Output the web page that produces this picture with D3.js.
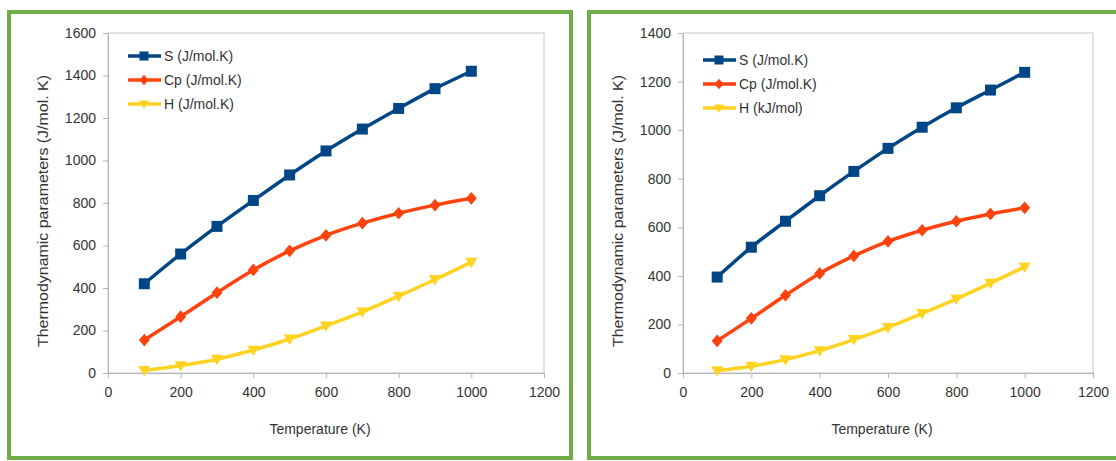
<!DOCTYPE html>
<html>
<head>
<meta charset="utf-8">
<script src="https://cdn.jsdelivr.net/npm/d3@7"></script>
<style>
body { margin: 0; background: #fff; }
svg { display: block; font-family: "Liberation Sans", Arial, sans-serif; }
</style>
</head>
<body>
<svg id="canvas" width="1116" height="461"></svg>
<script>
//Chart values
var temps = [100, 200, 300, 400, 500, 600, 700, 800, 900, 1000];
var xTicks = [0, 200, 400, 600, 800, 1000, 1200];

var leftS = [420, 560, 690, 812, 932, 1045, 1148, 1245, 1338, 1420];
var leftCp = [155, 265, 378, 485, 575, 648, 705, 752, 790, 822];
var leftH = [12, 35, 65, 108, 160, 222, 288, 362, 440, 522];
var leftLabels = ["S (J/mol.K)", "Cp (J/mol.K)", "H (J/mol.K)"];
var leftYTicks = [0, 200, 400, 600, 800, 1000, 1200, 1400, 1600];

var rightS = [395, 518, 625, 730, 830, 925, 1012, 1092, 1165, 1238];
var rightCp = [132, 225, 320, 410, 482, 542, 588, 625, 655, 680];
var rightH = [10, 28, 55, 92, 138, 188, 245, 305, 370, 437];
var rightLabels = ["S (J/mol.K)", "Cp (J/mol.K)", "H (kJ/mol)"];
var rightYTicks = [0, 200, 400, 600, 800, 1000, 1200, 1400];

var colors = ["#004586", "#ff420e", "#ffd320"];

var svg = d3.select("#canvas");

//Green panel frames
svg.append("rect").attr("x", 9).attr("y", 12).attr("width", 562).attr("height", 446)
    .attr("fill", "none").attr("stroke", "#70ad47").attr("stroke-width", 4);
svg.append("rect").attr("x", 589).attr("y", 12).attr("width", 560).attr("height", 446)
    .attr("fill", "none").attr("stroke", "#70ad47").attr("stroke-width", 4);

//marker shapes: square, diamond, down triangle
function marker(k, s) {
    if (k == 0) return "M" + (-s) + "," + (-s) + "h" + 2 * s + "v" + 2 * s + "h" + (-2 * s) + "Z";
    if (k == 1) return "M0," + (-s * 1.15) + "L" + s + ",0L0," + (s * 1.15) + "L" + (-s) + ",0Z";
    return "M" + (-s * 1.1) + "," + (-s * 0.8) + "L" + (s * 1.1) + "," + (-s * 0.8) + "L0," + (s * 1.1) + "Z";
}

function panel(opt) {
    var g = svg.append("g");
    var x = d3.scaleLinear().domain([0, 1200]).range([opt.left, opt.right]);
    var y = d3.scaleLinear().domain([0, opt.ymax]).range([373, 33]);

    //plot box
    g.append("rect").attr("x", opt.left).attr("y", 33)
        .attr("width", opt.right - opt.left).attr("height", 340)
        .attr("fill", "none").attr("stroke", "#c8c8c8").attr("stroke-width", 1);

    var xa = g.append("g").attr("transform", "translate(0,373)")
        .call(d3.axisBottom(x).tickValues(xTicks).tickSize(5).tickPadding(9).tickFormat(d3.format("d")));
    var ya = g.append("g").attr("transform", "translate(" + opt.left + ",0)")
        .call(d3.axisLeft(y).tickValues(opt.yTicks).tickSize(5).tickPadding(7).tickFormat(d3.format("d")));
    [xa, ya].forEach(function(a) {
        a.select(".domain").attr("stroke", "#b3b3b3");
        a.selectAll(".tick line").attr("stroke", "#b3b3b3");
        a.selectAll(".tick text").attr("fill", "#333").style("font-size", "14px");
    });

    g.append("text").attr("x", (opt.left + opt.right) / 2 - 6).attr("y", 434)
        .attr("text-anchor", "middle").attr("fill", "#333").style("font-size", "14px")
        .text("Temperature (K)");
    g.append("text")
        .attr("transform", "translate(" + (opt.left - 60) + ",211) rotate(-90)")
        .attr("text-anchor", "middle").attr("fill", "#333").style("font-size", "14px")
        .attr("textLength", 272).attr("lengthAdjust", "spacingAndGlyphs")
        .text("Thermodynamic parameters (J/mol. K)");

    var line = d3.line()
        .x(function(d, i) { return x(temps[i]); })
        .y(function(d) { return y(d); })
        .curve(d3.curveMonotoneX);

    opt.series.forEach(function(s, k) {
        g.append("path").datum(s).attr("d", line)
            .attr("fill", "none").attr("stroke", colors[k]).attr("stroke-width", 3.5);
        g.selectAll(".m" + k).data(s).enter().append("path")
            .attr("transform", function(d, i) {
                return "translate(" + x(temps[i]) + "," + y(d) + ")";
            })
            .attr("d", marker(k, 5.5))
            .attr("fill", colors[k]);
    });

    //legend
    opt.labels.forEach(function(t, k) {
        var ly = opt.legY + k * 24;
        var lx = opt.left + 20;
        g.append("line").attr("x1", lx).attr("x2", lx + 33).attr("y1", ly).attr("y2", ly)
            .attr("stroke", colors[k]).attr("stroke-width", 3.5);
        g.append("path")
            .attr("transform", "translate(" + (lx + 16) + "," + ly + ")")
            .attr("d", marker(k, 4.5))
            .attr("fill", colors[k]);
        g.append("text").attr("x", lx + 36).attr("y", ly + 5)
            .attr("fill", "#333").style("font-size", "14px").text(t);
    });
}

panel({left: 108, right: 544, ymax: 1600, yTicks: leftYTicks,
    series: [leftS, leftCp, leftH], labels: leftLabels, legY: 56});
panel({left: 683, right: 1093, ymax: 1400, yTicks: rightYTicks,
    series: [rightS, rightCp, rightH], labels: rightLabels, legY: 60});
</script>
</body>
</html>
